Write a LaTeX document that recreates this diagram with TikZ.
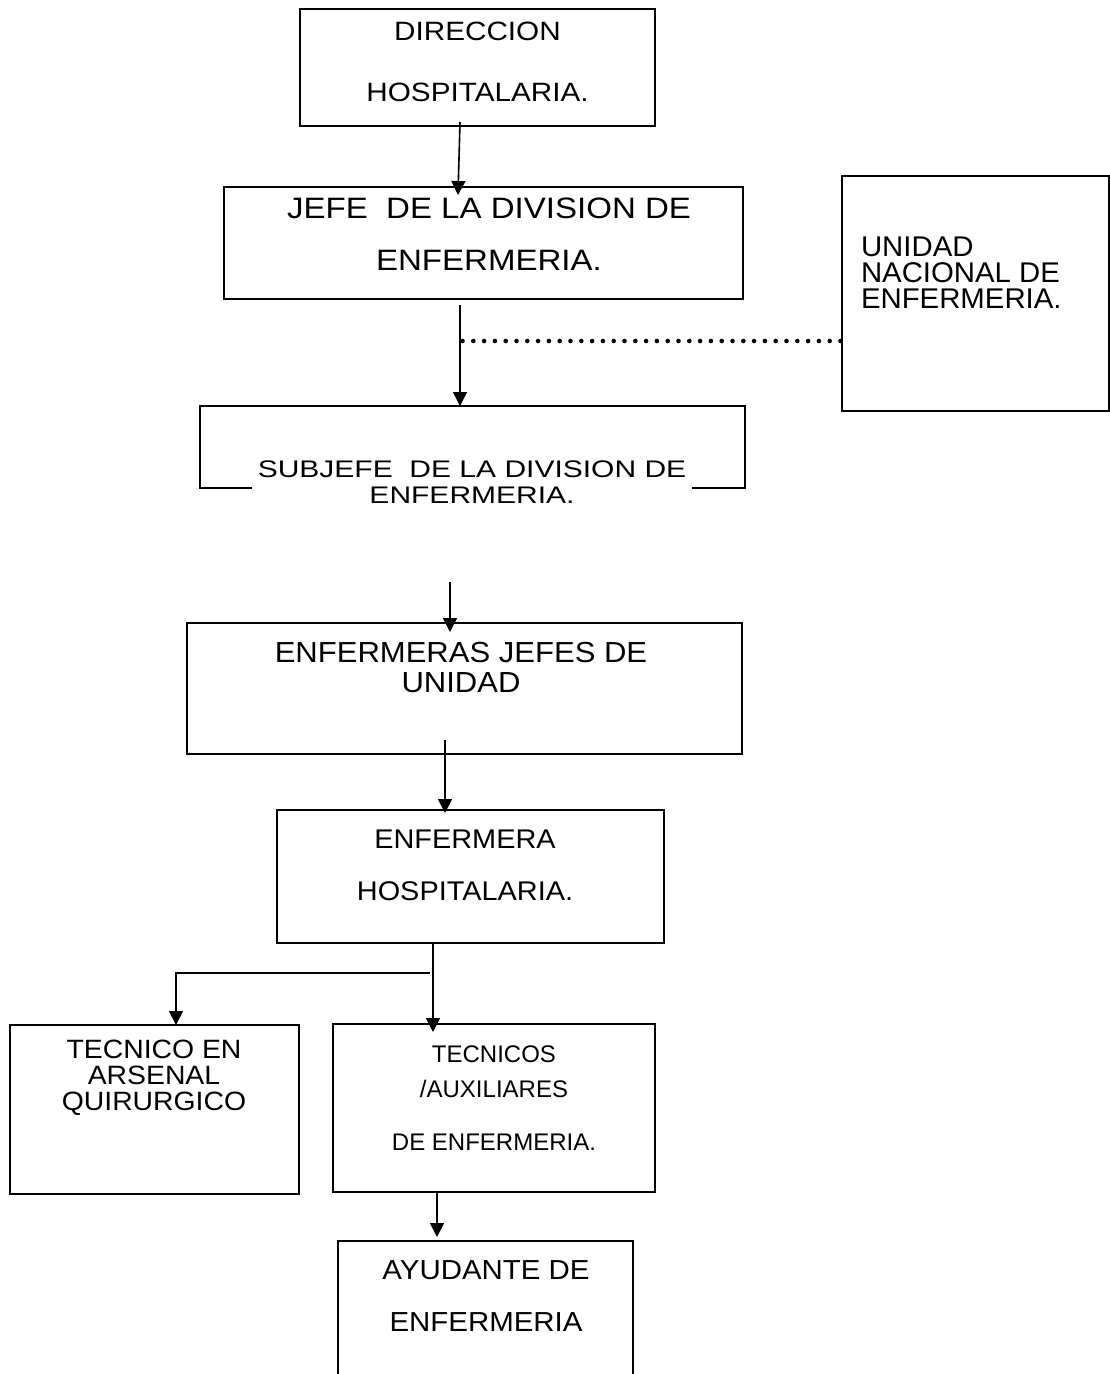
\documentclass[tikz,border=0pt]{standalone}
\usepackage{fontspec}
\setmainfont{Liberation Sans}
\newfontfamily\fa[FakeStretch=1.12]{Liberation Sans}
\newfontfamily\fb[FakeStretch=1.25]{Liberation Sans}
\newfontfamily\fc[FakeStretch=1.07]{Liberation Sans}
\newfontfamily\fd[FakeStretch=1.03]{Liberation Sans}
\usetikzlibrary{arrows.meta,calc}
\begin{document}
\begin{tikzpicture}[x=1pt,y=-1pt,
  box/.style 2 args={draw,line width=1.5pt,rectangle,anchor=north west,inner sep=0pt,outer sep=0pt,minimum width=#1,minimum height=#2},
  lbl/.style={inner sep=0pt,outer sep=0pt,align=center},
  arr/.style={line width=1.6pt,-{Triangle[width=14pt,length=14pt]}},
  dotline/.style={line width=4.6pt,line cap=round,dash pattern=on 0pt off 10.8pt}]
\clip (0,0) rectangle (1110,1374);
\fill[white] (0,0) rectangle (1110,1374);

% boxes
\node[box={355pt}{117pt}] (dir) at (300,9) {};
\node[box={519pt}{112pt}] (jefe) at (224,187) {};
\node[box={267pt}{235pt}] (unidad) at (842,176) {};
\node[box={545pt}{82pt}] (sub) at (200,406) {};
\node[box={555pt}{131pt}] (ej) at (187,623) {};
\node[box={387pt}{133pt}] (eh) at (277,810) {};
\node[box={289pt}{169pt}] (ars) at (10,1025) {};
\node[box={322pt}{168pt}] (tec) at (333,1024) {};
\node[box={295pt}{180pt}] (ayu) at (338,1241) {};

% texts
\node[lbl,font=\fa\fontsize{26.5}{61}\selectfont] (tdir) at (477.5,61.5) {DIRECCION\\HOSPITALARIA.};
\node[lbl,font=\fa\fontsize{29.5}{52}\selectfont] (tjefe) at (489,234) {JEFE\ \ DE LA DIVISION DE\\ENFERMERIA.};
\node[lbl,align=left,anchor=west,font=\fd\fontsize{28.5}{26}\selectfont] (tunidad) at (861,273) {UNIDAD\\NACIONAL DE\\ENFERMERIA.};
\node[lbl,fill=white,inner xsep=6pt,font=\fb\fontsize{24}{26}\selectfont] (tsub) at (472,482) {SUBJEFE\ \ DE LA DIVISION DE\\ENFERMERIA.};
\node[lbl,font=\fc\fontsize{29}{30}\selectfont] (tej) at (461,668) {ENFERMERAS JEFES DE\\UNIDAD};
\node[lbl,font=\fc\fontsize{27}{52}\selectfont] (teh) at (465,865) {ENFERMERA\\HOSPITALARIA.};
\node[lbl,font=\fc\fontsize{26.5}{26}\selectfont] (tars) at (154,1078) {TECNICO EN\\ARSENAL\\QUIRURGICO};
\node[lbl,font=\fontsize{24}{35}\selectfont] (ttec) at (494,1098) {TECNICOS\\/AUXILIARES\\[18pt]DE ENFERMERIA.};
\node[lbl,font=\fc\fontsize{27.5}{52}\selectfont] (tayu) at (486,1296) {AYUDANTE DE\\ENFERMERIA};

% connectors
\draw[arr] ($(dir.south)+(-17.5,-4)$) -- ($(jefe.north)+(-25.5,8)$);
\draw[arr] ($(jefe.south)+(-23.5,6)$) -- ($(sub.north)+(-12.5,0)$);
\coordinate (dotA) at ($(jefe.south)+(-21,42)$);
\draw[dotline] (dotA) -- (dotA -| unidad.west);
\draw[arr] ($(ej.north)+(-14.5,-41)$) -- ($(ej.north)+(-14.5,9)$);
\draw[arr] ($(ej.south)+(-19.5,-14)$) -- ($(eh.north)+(-25.5,3)$);
\coordinate (br) at ($(eh.south)+(-37.5,30)$);
\draw[arr] (eh.south -| br) -- ($(tec.north)+(-61,8)$);
\draw[arr] ($(br)+(-3,0)$) -| ($(ars.north)+(21.5,0)$);
\draw[arr] ($(tec.south)+(-57,0)$) -- ($(ayu.north)+(-48.5,-4)$);
\end{tikzpicture}
\end{document}
